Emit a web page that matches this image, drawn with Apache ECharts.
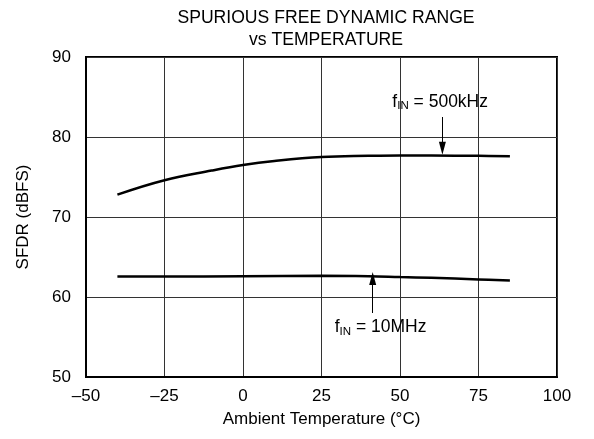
<!DOCTYPE html>
<html>
<head>
<meta charset="utf-8">
<script src="https://cdn.jsdelivr.net/npm/echarts@6/dist/echarts.min.js"></script>
<style>
  html, body { margin: 0; padding: 0; background: #fff; }
  #chart { width: 594px; height: 439px; }
</style>
</head>
<body>
<div id="chart"></div>
<script>
// temperatures (°C) and SFDR (dBFS)
const temp500k = [-40, -25, -10, 0, 10, 25, 40, 50, 60, 75, 85];
const sfdr500k = [72.8, 74.6, 75.8, 76.5, 77.0, 77.5, 77.65, 77.7, 77.7, 77.65, 77.6];
const temp10M = [-40, -25, 0, 25, 40, 50, 60, 75, 85];
const sfdr10M = [62.55, 62.55, 62.6, 62.65, 62.6, 62.5, 62.4, 62.2, 62.05];

const xTicks = [-50, -25, 0, 25, 50, 75, 100];
const yTicks = [50, 60, 70, 80, 90];

// annotation arrows: [temp, from, to] and label anchor [temp, value]
const arrow500k = [63.5, 82.5, 78.6];
const arrow10M = [41.3, 58.0, 62.3];
const label500k = [62.8, 84.4];
const label10M = [43.8, 56.2];

const FONT = "Liberation Sans, Arial, sans-serif";
const chart = echarts.init(document.getElementById("chart"));

const pair = (xs, ys) => xs.map((x, i) => [x, ys[i]]);

const richLabel = {
  a: { fontSize: 17.5, fontFamily: FONT, color: "#000" },
  s: { fontSize: 11.5, fontFamily: FONT, color: "#000", padding: [9, 0, 0, 0] },
};

const arrowLine = (a) => ({
  silent: true,
  symbol: ["none", "triangle"],
  symbolSize: [7, 13],
  label: { show: false },
  itemStyle: { color: "#000" },
  lineStyle: { color: "#000", width: 1, type: "solid" },
  data: [[{ coord: [a[0], a[1]] }, { coord: [a[0], a[2]] }]],
});

const labelPoint = (text, at) => ({
  silent: true,
  symbolSize: 0,
  label: { show: true, position: "inside", formatter: text, rich: richLabel },
  data: [{ coord: at }],
});

const option = {
  animation: false,
  backgroundColor: "#fff",
  title: {
    text: "SPURIOUS FREE DYNAMIC RANGE\nvs TEMPERATURE",
    left: 321,
    textAlign: "center",
    top: 2,
    textStyle: { fontSize: 17.6, fontWeight: "normal", fontFamily: FONT, color: "#000", lineHeight: 22 },
  },
  grid: { left: 86, right: 37, top: 57, bottom: 62, show: true, borderColor: "#000", borderWidth: 2 },
  xAxis: {
    type: "value",
    min: xTicks[0],
    max: xTicks[xTicks.length - 1],
    interval: 25,
    name: "Ambient Temperature (°C)",
    nameLocation: "middle",
    nameGap: 34,
    nameTextStyle: { fontSize: 17, fontFamily: FONT, color: "#000" },
    axisLine: { show: true, onZero: false, lineStyle: { color: "#000", width: 2 } },
    axisTick: { show: false },
    axisLabel: {
      fontSize: 17, fontFamily: FONT, color: "#000", margin: 11,
      formatter: (v) => String(v).replace("-", "\u2013"),
    },
    splitLine: { show: true, lineStyle: { color: "#333", width: 1 } },
  },
  yAxis: {
    type: "value",
    min: yTicks[0],
    max: yTicks[yTicks.length - 1],
    interval: 10,
    name: "SFDR (dBFS)",
    nameLocation: "middle",
    nameGap: 54,
    nameTextStyle: { fontSize: 17, fontFamily: FONT, color: "#000" },
    axisLine: { show: true, onZero: false, lineStyle: { color: "#000", width: 2 } },
    axisTick: { show: false },
    axisLabel: { fontSize: 17, fontFamily: FONT, color: "#000", margin: 15 },
    splitLine: { show: true, lineStyle: { color: "#333", width: 1 } },
  },
  series: [
    {
      name: "fIN = 500kHz",
      type: "line",
      smooth: 0.4,
      symbol: "none",
      lineStyle: { color: "#000", width: 2.5 },
      data: pair(temp500k, sfdr500k),
      markLine: arrowLine(arrow500k),
      markPoint: labelPoint("{a|f}{s|IN}{a| = 500kHz}", label500k),
    },
    {
      name: "fIN = 10MHz",
      type: "line",
      smooth: 0.4,
      symbol: "none",
      lineStyle: { color: "#000", width: 2.5 },
      data: pair(temp10M, sfdr10M),
      markLine: arrowLine(arrow10M),
      markPoint: labelPoint("{a|f}{s|IN}{a| = 10MHz}", label10M),
    },
  ],
};

chart.setOption(option);
</script>
</body>
</html>
